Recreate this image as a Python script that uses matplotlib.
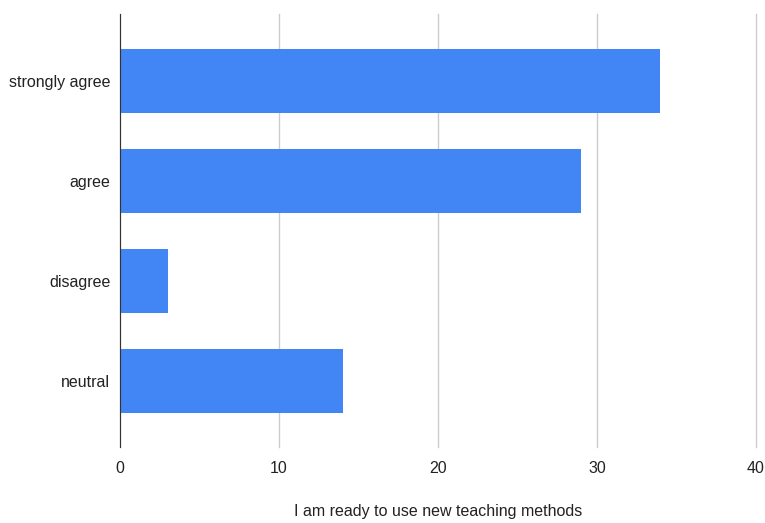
import matplotlib.pyplot as plt

plt.rcParams['font.family'] = ['Liberation Sans', 'DejaVu Sans']

categories = ['strongly agree', 'agree', 'disagree', 'neutral']
counts = [34, 29, 3, 14]
xticks = [0, 10, 20, 30, 40]

fig = plt.figure(figsize=(7.65, 5.23), dpi=100)
ax = fig.add_axes([0.157, 0.145, 0.831, 0.828])

ypos = list(range(len(categories)))[::-1]
ax.barh(ypos, counts, height=0.64, color='#4285F4', zorder=2)

ax.set_xlim(0, 40)
ax.set_ylim(-0.66, 3.67)
ax.set_xticks(xticks)
ax.set_xticklabels([str(t) for t in xticks], fontsize=11.5, color='#222222')
ax.set_yticks(ypos)
ax.set_yticklabels(categories, fontsize=11.5, color='#222222')
ax.tick_params(length=0, pad=10)
ax.tick_params(axis='y', pad=7)

ax.grid(axis='x', color='#cccccc', linewidth=1, zorder=0)
for gl in ax.get_xgridlines():
    gl.set_clip_on(False)
for s in ['top', 'right', 'bottom']:
    ax.spines[s].set_visible(False)
ax.spines['left'].set_color('#333333')
ax.spines['left'].set_zorder(3)

ax.set_xlabel('I am ready to use new teaching methods', fontsize=11.5,
              color='#222222', labelpad=20)

fig.savefig('out.png', dpi=100)
